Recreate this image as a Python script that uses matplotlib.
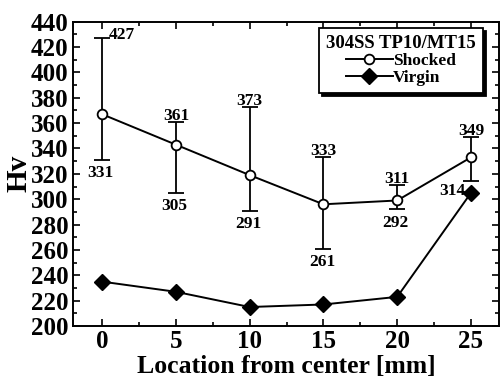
import matplotlib
matplotlib.use("Agg")
import matplotlib.pyplot as plt
from matplotlib.lines import Line2D
from matplotlib.ticker import MultipleLocator

plt.rcParams['font.family'] = 'Liberation Serif'
plt.rcParams['font.weight'] = 'bold'

# data
location = [0, 5, 10, 15, 20, 25]
shocked = [367, 343, 319, 296, 299, 333]
shocked_hi = [427, 361, 373, 333, 311, 349]
shocked_lo = [331, 305, 291, 261, 292, 314]
virgin = [235, 227, 215, 217, 223, 305]

fig = plt.figure(figsize=(5.01, 3.8), dpi=100)
ax = fig.add_axes([0.145, 0.142, 0.851, 0.801])

err = [[s - lo for s, lo in zip(shocked, shocked_lo)],
       [hi - s for s, hi in zip(shocked, shocked_hi)]]
ax.errorbar(location, shocked, yerr=err, fmt='-o', color='black', mfc='white',
            mec='black', ms=7, mew=1.3, lw=1.4, elinewidth=1.3, capsize=6,
            capthick=1.3, zorder=3)
ax.plot(location, virgin, '-D', color='black', ms=8, lw=1.4, zorder=3)

# value labels at the error bar caps
fs_val = 12.5
for i, (x, hi, lo) in enumerate(zip(location, shocked_hi, shocked_lo)):
    if i == 0:
        ax.annotate(str(hi), (x, hi), xytext=(5, 2), textcoords='offset points',
                    ha='left', va='center', fontsize=fs_val, fontweight='bold')
    else:
        ax.annotate(str(hi), (x, hi), xytext=(0, -1.5), textcoords='offset points',
                    ha='center', va='bottom', fontsize=fs_val, fontweight='bold')
    if i == 5:
        ax.annotate(str(lo), (x, lo), xytext=(-4, -7), textcoords='offset points',
                    ha='right', va='center', fontsize=fs_val, fontweight='bold')
    else:
        ax.annotate(str(lo), (x, lo), xytext=(-1, -4), textcoords='offset points',
                    ha='center', va='top', fontsize=fs_val, fontweight='bold')

ax.set_xlim(-2, 26.9)
ax.set_ylim(200, 440)
ax.xaxis.set_major_locator(MultipleLocator(5))
ax.xaxis.set_minor_locator(MultipleLocator(2.5))
ax.yaxis.set_major_locator(MultipleLocator(20))
ax.yaxis.set_minor_locator(MultipleLocator(10))
ax.tick_params(which='both', direction='in', top=True, right=True, labelsize=18, width=1.2)
ax.tick_params(which='major', length=5, pad=3)
ax.tick_params(which='minor', length=3)
for sp in ax.spines.values():
    sp.set_linewidth(1.4)

ax.set_xlabel('Location from center [mm]', fontsize=18.5, fontweight='bold', labelpad=1)
ax.set_ylabel('Hv', fontsize=21, fontweight='bold', labelpad=-1)

handles = [Line2D([], [], color='black', marker='o', mfc='white', mec='black', ms=7, mew=1.3, lw=1.4),
           Line2D([], [], color='black', marker='D', ms=8, lw=1.4)]
leg = ax.legend(handles, ['Shocked', 'Virgin'], title='304SS TP10/MT15', loc='upper right',
                bbox_to_anchor=(0.962, 0.979), borderaxespad=0, fontsize=12.5,
                title_fontsize=13.5, frameon=True, fancybox=False,
                shadow={'color': 'black', 'alpha': 1},
                handlelength=2.7, handletextpad=0.0, borderpad=0.4, labelspacing=0.05)
leg.get_frame().set_edgecolor('black')
leg.get_frame().set_linewidth(1.3)
leg.get_title().set_fontweight('bold')

fig.savefig('out.png', dpi=100)
